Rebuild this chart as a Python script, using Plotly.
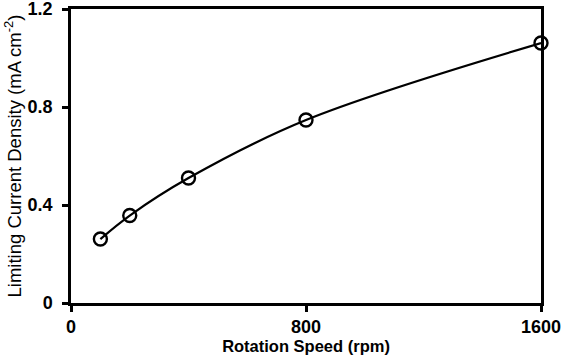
import plotly.graph_objects as go

speed = [100, 200, 400, 800, 1600]
current = [0.261, 0.357, 0.51, 0.747, 1.061]
x_ticks = [0, 800, 1600]
y_ticks = [0, 0.4, 0.8, 1.2]
y_tick_labels = ["0", "0.4", "0.8", "1.2"]

FONT = "Liberation Sans, Arial, sans-serif"

fig = go.Figure()
fig.add_trace(go.Scatter(
    x=speed, y=current, mode="lines+markers",
    line=dict(color="black", width=2.2, shape="spline", smoothing=1.0),
    marker=dict(symbol="circle-open", size=13, color="black", line=dict(width=2.4, color="black")),
    showlegend=False, cliponaxis=False,
))

fig.update_layout(
    width=568, height=358,
    margin=dict(l=71, r=27, t=9, b=55),
    plot_bgcolor="white", paper_bgcolor="white",
    font=dict(family=FONT, color="black"),
)
fig.update_xaxes(
    range=[0, 1600], tickvals=x_ticks, ticktext=["<b>%d</b>" % v for v in x_ticks],
    showgrid=False, zeroline=False, showline=True, linecolor="black", linewidth=2.5,
    mirror=True, ticks="outside", ticklen=6, tickwidth=2.5, tickcolor="black",
    automargin=False, ticklabeloverflow="allow",
    tickfont=dict(size=18, family=FONT, color="black"),
    title=dict(text="<b>Rotation Speed (rpm)</b>", font=dict(size=16.5, family=FONT, color="black"), standoff=0),
)
fig.update_yaxes(
    range=[0, 1.2], tickvals=y_ticks, ticktext=["<b>%s</b>" % t for t in y_tick_labels],
    showgrid=False, zeroline=False, showline=True, linecolor="black", linewidth=2.5,
    mirror=True, ticks="outside", ticklen=6, tickwidth=2.5, tickcolor="black",
    ticklabelstandoff=6, automargin=False, ticklabeloverflow="allow",
    tickfont=dict(size=18, family=FONT, color="black"),
    title=dict(text="Limiting Current Density (mA cm<sup>-2</sup>)", font=dict(size=18.5, family=FONT, color="black"), standoff=2),
)

fig.write_html("out.html")
